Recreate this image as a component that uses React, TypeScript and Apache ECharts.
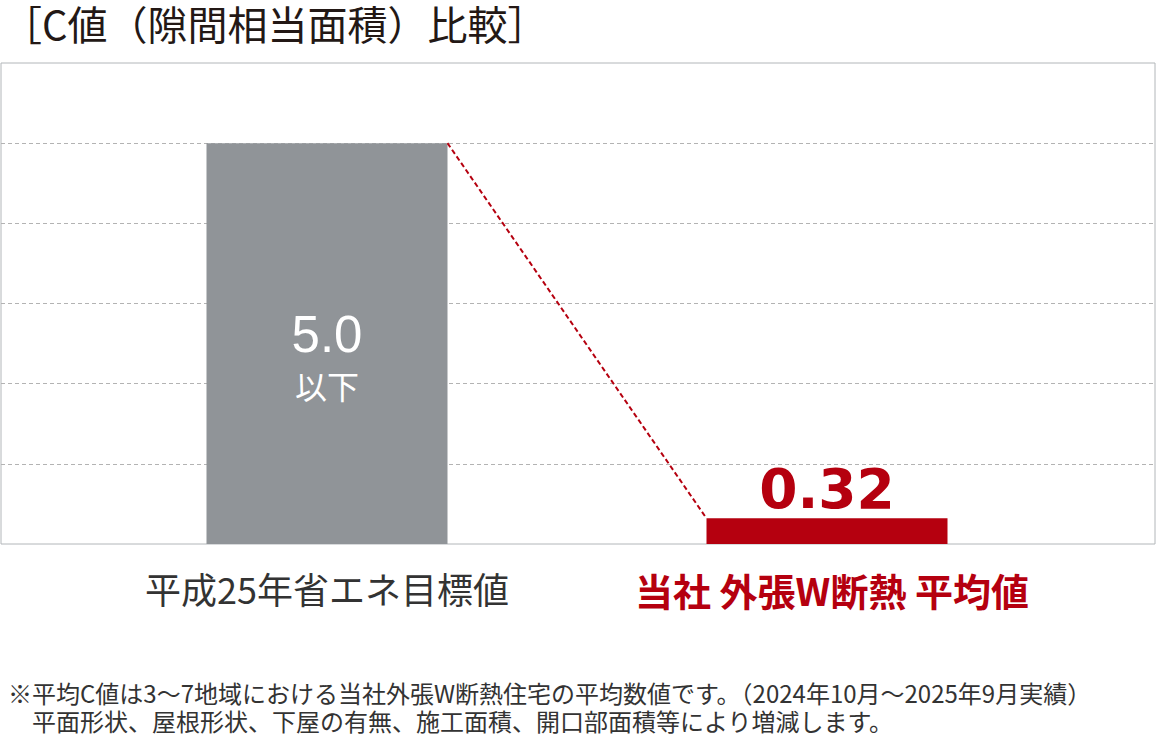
import React, { useEffect, useRef } from 'react'
import * as echarts from 'echarts'

const categories = ['平成25年省エネ目標値', '当社 外張W断熱 平均値']
const values = [5.0, 0.32]
const valueLabels = ['5.0', '0.32']
const unitLabel = '以下'
const yMax = 6
const titleText = '［C値（隙間相当面積）比較］'
const notes = [
  '※平均C値は3〜7地域における当社外張W断熱住宅の平均数値です。（2024年10月〜2025年9月実績）',
  '　平面形状、屋根形状、下屋の有無、施工面積、開口部面積等により増減します。'
]

const GRAY = '#909498'
const RED = '#b5000f'
const JP = '"Noto Sans CJK JP", "Noto Sans", sans-serif'
const BAR_W = 241

const App: React.FC = () => {
  const chartRef = useRef<HTMLDivElement>(null)

  useEffect(() => {
    document.body.style.margin = '0'
    if (!chartRef.current) return
    const chart = echarts.init(chartRef.current, undefined, { renderer: 'svg' })

    const option: echarts.EChartsOption = {
      animation: false,
      backgroundColor: '#fff',
      grid: [
        { left: 1, right: 6, top: 63, bottom: 194, show: true, borderColor: '#b2b6b9', borderWidth: 1 },
        { left: 77, right: 84, top: 63, bottom: 194 }
      ],
      xAxis: [
        { type: 'value', gridIndex: 0, show: false },
        {
          type: 'category',
          gridIndex: 1,
          data: [
            { value: categories[0], textStyle: { color: '#333', fontWeight: 'normal', fontSize: 36 } },
            { value: categories[1], textStyle: { color: RED, fontWeight: 'bold', fontSize: 38, padding: [0, 0, 0, 10] } }
          ],
          axisLine: { show: false },
          axisTick: { show: false },
          axisLabel: { margin: 26, fontSize: 36, fontFamily: JP, interval: 0 }
        }
      ],
      yAxis: [
        {
          type: 'value',
          gridIndex: 0,
          min: 0,
          max: yMax,
          interval: 1,
          axisLabel: { show: false },
          axisLine: { show: false },
          axisTick: { show: false },
          splitLine: {
            showMinLine: false,
            showMaxLine: false,
            lineStyle: { color: '#b3b3b3', type: [4, 3], width: 1 }
          } as any
        },
        { type: 'value', gridIndex: 1, min: 0, max: yMax, show: false, splitLine: { show: false } }
      ],
      series: [
        {
          type: 'bar',
          xAxisIndex: 1,
          yAxisIndex: 1,
          barWidth: BAR_W,
          data: [
            {
              value: values[0],
              itemStyle: { color: GRAY },
              label: {
                show: true,
                position: ['50%', '53%'],
                align: 'center',
                verticalAlign: 'middle',
                formatter: `{a|${valueLabels[0]}}\n{b|${unitLabel}}`,
                rich: {
                  a: { fontSize: 51, lineHeight: 58, color: '#fff', fontFamily: '"Liberation Sans", Arial, sans-serif' },
                  b: { fontSize: 32, lineHeight: 42, color: '#fff', fontFamily: JP }
                }
              }
            },
            {
              value: values[1],
              itemStyle: { color: RED },
              label: {
                show: true,
                position: 'top',
                distance: 2,
                formatter: valueLabels[1],
                fontSize: 55,
                fontWeight: 'bold',
                color: RED,
                fontFamily: '"DejaVu Sans", sans-serif'
              }
            }
          ]
        },
        {
          type: 'custom',
          xAxisIndex: 1,
          yAxisIndex: 1,
          z: 3,
          data: [[0, values[0], 1, values[1]]],
          renderItem: (params: any, api: any) => {
            const a = api.coord([api.value(0), api.value(1)])
            const b = api.coord([api.value(2), api.value(3)])
            return {
              type: 'line',
              shape: { x1: a[0] + BAR_W / 2, y1: a[1], x2: b[0] - BAR_W / 2, y2: b[1] },
              style: { stroke: RED, lineWidth: 2, lineDash: [5, 3] }
            }
          }
        } as any
      ],
      graphic: [
        {
          type: 'text',
          left: 2,
          top: 3,
          style: { text: titleText, fontSize: 40, fontFamily: JP, fill: '#231815' }
        },
        {
          type: 'text',
          left: 8,
          top: 678,
          style: { text: notes.join('\n'), fontSize: 24, lineHeight: 28, fontFamily: JP, fill: '#333' }
        }
      ]
    }

    chart.setOption(option)
    return () => {
      chart.dispose()
    }
  }, [])

  return <div ref={chartRef} style={{ width: 1161, height: 738 }} />
}

export default App
